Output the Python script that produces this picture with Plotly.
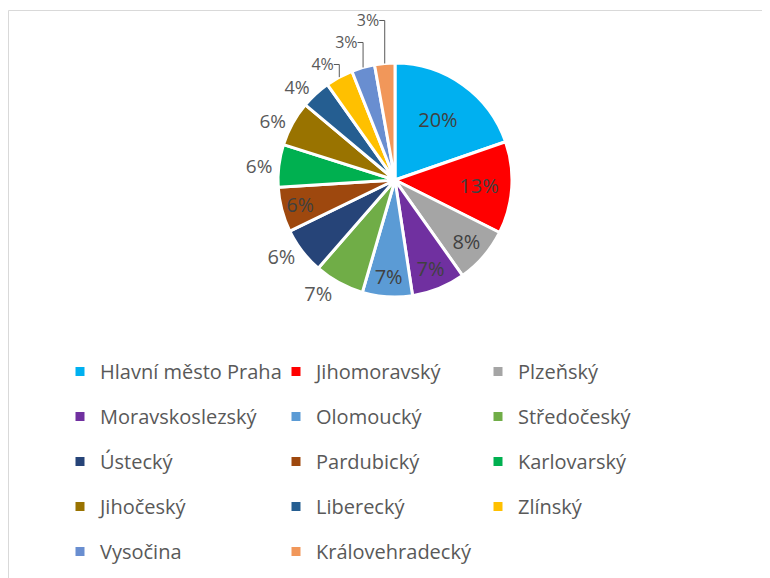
import plotly.graph_objects as go

# Podíl krajů (v %)
regions = [
    "Hlavní město Praha", "Jihomoravský", "Plzeňský", "Moravskoslezský",
    "Olomoucký", "Středočeský", "Ústecký", "Pardubický", "Karlovarský",
    "Jihočeský", "Liberecký", "Zlínský", "Vysočina", "Královehradecký",
]
shares = [19.7, 12.7, 7.8, 7.4, 6.9, 6.9, 6.4, 6.2, 5.9, 6.2, 4.1, 3.8, 3.2, 2.8]
colors = [
    "#00B0F0", "#FF0000", "#A5A5A5", "#7030A0", "#5B9BD5", "#70AD47", "#264478",
    "#9E480E", "#00B050", "#997300", "#255E91", "#FFC000", "#698ED0", "#F1975A",
]
label_pos = [
    "inside", "inside", "inside", "inside", "inside", "outside", "outside",
    "inside", "outside", "outside", "outside", "outside", "outside", "outside",
]
# menší popisky u nejmenších výsečí nahoře, aby se vešly
outside_size = [20, 20, 20, 20, 20, 20, 20, 20, 19, 19, 18, 16, 16, 16]

FONT = "Open Sans"
W, H = 770, 578

fig = go.Figure()

fig.add_trace(
    go.Pie(
        labels=regions,
        values=shares,
        sort=False,
        direction="clockwise",
        rotation=0,
        marker=dict(colors=colors, line=dict(color="white", width=3)),
        textinfo="percent",
        texttemplate="%{percent:.0%}",
        textposition=label_pos,
        insidetextorientation="horizontal",
        insidetextfont=dict(color="#404040", size=20, family=FONT),
        outsidetextfont=dict(color="#595959", size=outside_size, family=FONT),
        domain=dict(x=[0.0052, 1.0], y=[0.5, 0.9048]),
        showlegend=False,
        hoverinfo="label+percent",
    )
)

# legenda ve třech sloupcích (prázdné stopy jen kvůli položkám legendy)
legend_names = ["legend", "legend2", "legend3"]
for i, (name, col) in enumerate(zip(regions, colors)):
    fig.add_trace(
        go.Scatter(
            x=[None], y=[None],
            mode="markers",
            name=name,
            marker=dict(symbol="square", size=9, color=col),
            legend=legend_names[i % 3],
            legendgroup=name,
            showlegend=True,
        )
    )

leg_common = dict(
    orientation="v",
    yanchor="top",
    y=1 - 344 / H,
    xanchor="left",
    font=dict(family=FONT, size=20, color="#595959"),
    bgcolor="rgba(0,0,0,0)",
    borderwidth=0,
    tracegroupgap=16,
)

fig.update_layout(
    width=W,
    height=H,
    margin=dict(l=0, r=0, t=0, b=0, autoexpand=False),
    paper_bgcolor="white",
    plot_bgcolor="white",
    font=dict(family=FONT, color="#595959"),
    xaxis=dict(visible=False),
    yaxis=dict(visible=False),
    legend=dict(x=52 / W, **leg_common),
    legend2=dict(x=268 / W, **leg_common),
    legend3=dict(x=470 / W, **leg_common),
    shapes=[
        dict(
            type="rect", xref="paper", yref="paper",
            x0=0.5 / W, x1=1.05, y0=-0.05, y1=1 - 2.5 / H,
            line=dict(color="#D9D9D9", width=1),
            fillcolor="rgba(0,0,0,0)",
        )
    ],
)

fig.write_html("out.html")
